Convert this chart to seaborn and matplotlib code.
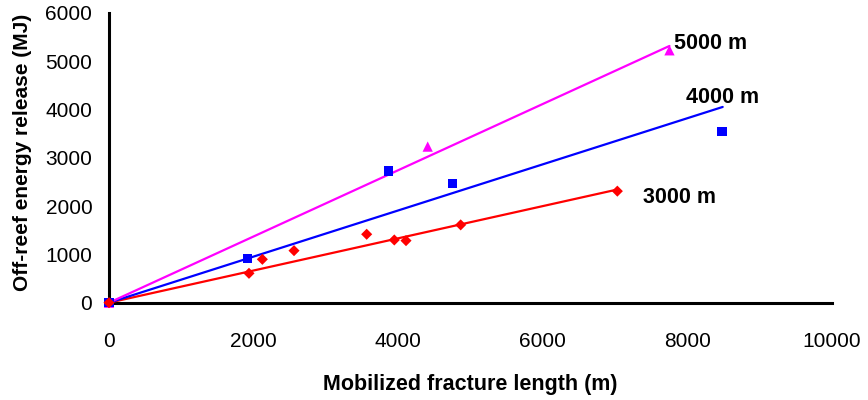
import numpy as np
import pandas as pd
import matplotlib
matplotlib.use("Agg")
import matplotlib.pyplot as plt
import seaborn as sns

# ---- data ----
depth_labels = ["3000 m", "4000 m", "5000 m"]

x_3000 = [0, 1936, 2121, 2559, 3564, 3946, 4108, 4864, 7031]
y_3000 = [0, 608, 898, 1077, 1416, 1298, 1284, 1610, 2308]

x_4000 = [0, 1918, 3868, 4749, 8478]
y_4000 = [0, 919, 2727, 2472, 3549]

x_5000 = [0, 4408, 7752]
y_5000 = [0, 3230, 5222]

# fitted trend lines (through origin), end points
trend_x_3000 = [0, 7031]
trend_y_3000 = [0, 2342]
trend_x_4000 = [0, 8488]
trend_y_4000 = [0, 4050]
trend_x_5000 = [0, 7752]
trend_y_5000 = [0, 5312]

x_ticks = [0, 2000, 4000, 6000, 8000, 10000]
y_ticks = [0, 1000, 2000, 3000, 4000, 5000, 6000]

sns.set_theme(style="white")
plt.rcParams["font.family"] = ["Liberation Sans", "DejaVu Sans"]
plt.rcParams["text.color"] = "black"
plt.rcParams["axes.labelcolor"] = "black"

fig = plt.figure(figsize=(8.68, 4.0), dpi=100)
ax = fig.add_axes([109 / 868, 1 - 302.7 / 400, (832 - 109) / 868, (302.7 - 12.7) / 400])

colors = {"3000 m": "#FF0000", "4000 m": "#0000FF", "5000 m": "#FF00FF"}

trend = pd.DataFrame({
    "x": trend_x_3000 + trend_x_4000 + trend_x_5000,
    "y": trend_y_3000 + trend_y_4000 + trend_y_5000,
    "depth": ["3000 m"] * 2 + ["4000 m"] * 2 + ["5000 m"] * 2,
})
sns.lineplot(data=trend, x="x", y="y", hue="depth", palette=colors, ax=ax,
             linewidth=1.6, legend=False, estimator=None, sort=False, zorder=3)

pts_5000 = pd.DataFrame({"x": x_5000, "y": y_5000})
pts_4000 = pd.DataFrame({"x": x_4000, "y": y_4000})
pts_3000 = pd.DataFrame({"x": x_3000, "y": y_3000})
sns.scatterplot(data=pts_5000, x="x", y="y", color=colors["5000 m"], marker="^",
                s=55, edgecolor="none", ax=ax, zorder=4, clip_on=False)
sns.scatterplot(data=pts_4000, x="x", y="y", color=colors["4000 m"], marker="s",
                s=45, edgecolor="none", ax=ax, zorder=5, clip_on=False)
sns.scatterplot(data=pts_3000, x="x", y="y", color=colors["3000 m"], marker="D",
                s=32, edgecolor="none", ax=ax, zorder=6, clip_on=False)

ax.set_xlim(0, 10000)
ax.set_ylim(0, 6000)
ax.set_xticks(x_ticks)
ax.set_yticks(y_ticks)
ax.set_xticklabels([str(v) for v in x_ticks])
ax.set_yticklabels([str(v) for v in y_ticks])

for s in ["top", "right"]:
    ax.spines[s].set_visible(False)
for s in ["left", "bottom"]:
    ax.spines[s].set_linewidth(2.2)
    ax.spines[s].set_color("black")
ax.tick_params(axis="both", direction="out", length=7, width=2.2, color="black",
               labelsize=15, labelcolor="black")
ax.tick_params(axis="x", pad=14)
ax.tick_params(axis="y", pad=5)

ax.set_xlabel("Mobilized fracture length (m)", fontsize=15.5, fontweight="bold",
              labelpad=17, color="black")
ax.set_ylabel("Off-reef energy release (MJ)", fontsize=15, fontweight="bold",
              color="black")
ax.yaxis.set_label_coords(-0.107, 0.52)

ax.text(7815, 5356, "5000 m", fontsize=15.5, fontweight="bold", va="center", ha="left", color="black")
ax.text(7980, 4238, "4000 m", fontsize=15.5, fontweight="bold", va="center", ha="left", color="black")
ax.text(7386, 2168, "3000 m", fontsize=15.5, fontweight="bold", va="center", ha="left", color="black")

ax.grid(False)
fig.savefig("out.png", dpi=100)
